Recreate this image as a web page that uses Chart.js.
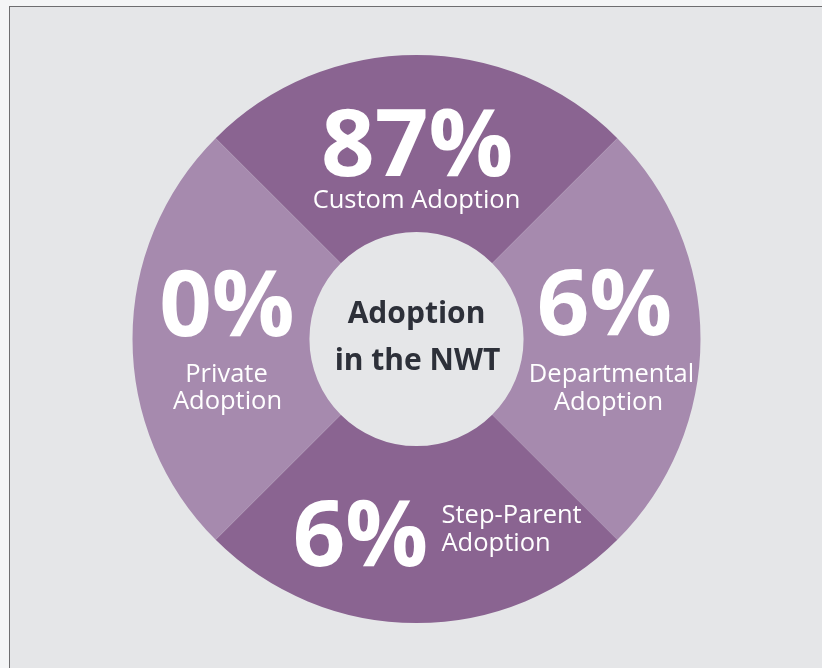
<!DOCTYPE html>
<html>
<head>
<meta charset="utf-8">
<script src="https://cdn.jsdelivr.net/npm/chart.js@4"></script>
<style>
  html, body { margin: 0; padding: 0; }
  body { width: 822px; height: 668px; background: #f4f5f6; position: relative; overflow: hidden; }
  #frame { position: absolute; left: 9px; top: 6px; width: 830px; height: 680px;
           background: #e5e6e8; border-left: 1px solid #6e6e70; border-top: 1px solid #6e6e70; }
  #wrap { position: absolute; left: 0; top: 0; width: 822px; height: 668px; }
</style>
</head>
<body>
<div id="frame"></div>
<div id="wrap"><canvas id="myChart"></canvas></div>
<script>
// clockwise from the top quadrant
var categories = ['Custom Adoption', 'Departmental Adoption', 'Step-Parent Adoption', 'Private Adoption'];
var percentages = [87, 6, 6, 0];
// every quadrant is drawn the same size in the original, whatever the value
var quadrantSizes = [1, 1, 1, 1];
var sliceColors = ['#8a6491', '#a68aae', '#8a6491', '#a68aae'];
var centerTitle = ['Adoption', 'in the NWT'];

// where the words sit, in px from the chart centre
var labelLayout = [
    { size: 94, big: [0.5, -163, 'center'], lines: [['Custom Adoption', 0, -131, 'center']] },
    { size: 92, big: [188, -4, 'center'], lines: [['Departmental', 195, 43, 'center'], ['Adoption', 192, 71, 'center']] },
    { size: 92, big: [-56, 227, 'center'], lines: [['Step-Parent', 25, 184, 'left'], ['Adoption', 25, 212, 'left']] },
    { size: 92, big: [-189.5, -3, 'center'], lines: [['Private', -190, 43, 'center'], ['Adoption', -189, 70, 'center']] }
];

const quadrantText = {
    id: 'quadrantText',
    afterDraw: function(chart) {
        var ctx = chart.ctx;
        var arcs = chart.getDatasetMeta(0).data;
        var cx = arcs[0].x;
        var cy = arcs[0].y;
        ctx.save();
        ctx.fillStyle = '#ffffff';
        ctx.textBaseline = 'alphabetic';
        for (var i = 0; i < arcs.length; i++) {
            var lay = labelLayout[i];
            ctx.font = 'bold ' + lay.size + 'px "Open Sans"';
            ctx.textAlign = lay.big[2];
            ctx.fillText(percentages[i] + '%', cx + lay.big[0], cy + lay.big[1]);
            ctx.font = '25.5px "Open Sans"';
            lay.lines.forEach(function(l) {
                ctx.textAlign = l[3];
                ctx.fillText(l[0], cx + l[1], cy + l[2]);
            });
        }
        ctx.fillStyle = '#2d3039';
        ctx.textAlign = 'center';
        ctx.font = 'bold 30px "Open Sans"';
        ctx.fillText(centerTitle[0], cx, cy - 16);
        ctx.fillText(centerTitle[1], cx + 1, cy + 31);
        ctx.restore();
    }
};

const ctx = document.getElementById('myChart').getContext('2d');
const myChart = new Chart(ctx, {
    type: 'doughnut',
    data: {
        labels: categories,
        datasets: [{
            data: quadrantSizes,
            backgroundColor: sliceColors,
            borderWidth: 0,
            hoverOffset: 0
        }]
    },
    options: {
        responsive: true,
        maintainAspectRatio: false,
        animation: false,
        rotation: -45,
        cutout: '37.7%',
        events: [],
        layout: { padding: { left: 132.5, right: 121.5, top: 55, bottom: 45 } },
        plugins: {
            legend: { display: false },
            tooltip: { enabled: false }
        }
    },
    plugins: [quadrantText]
});
</script>
</body>
</html>
